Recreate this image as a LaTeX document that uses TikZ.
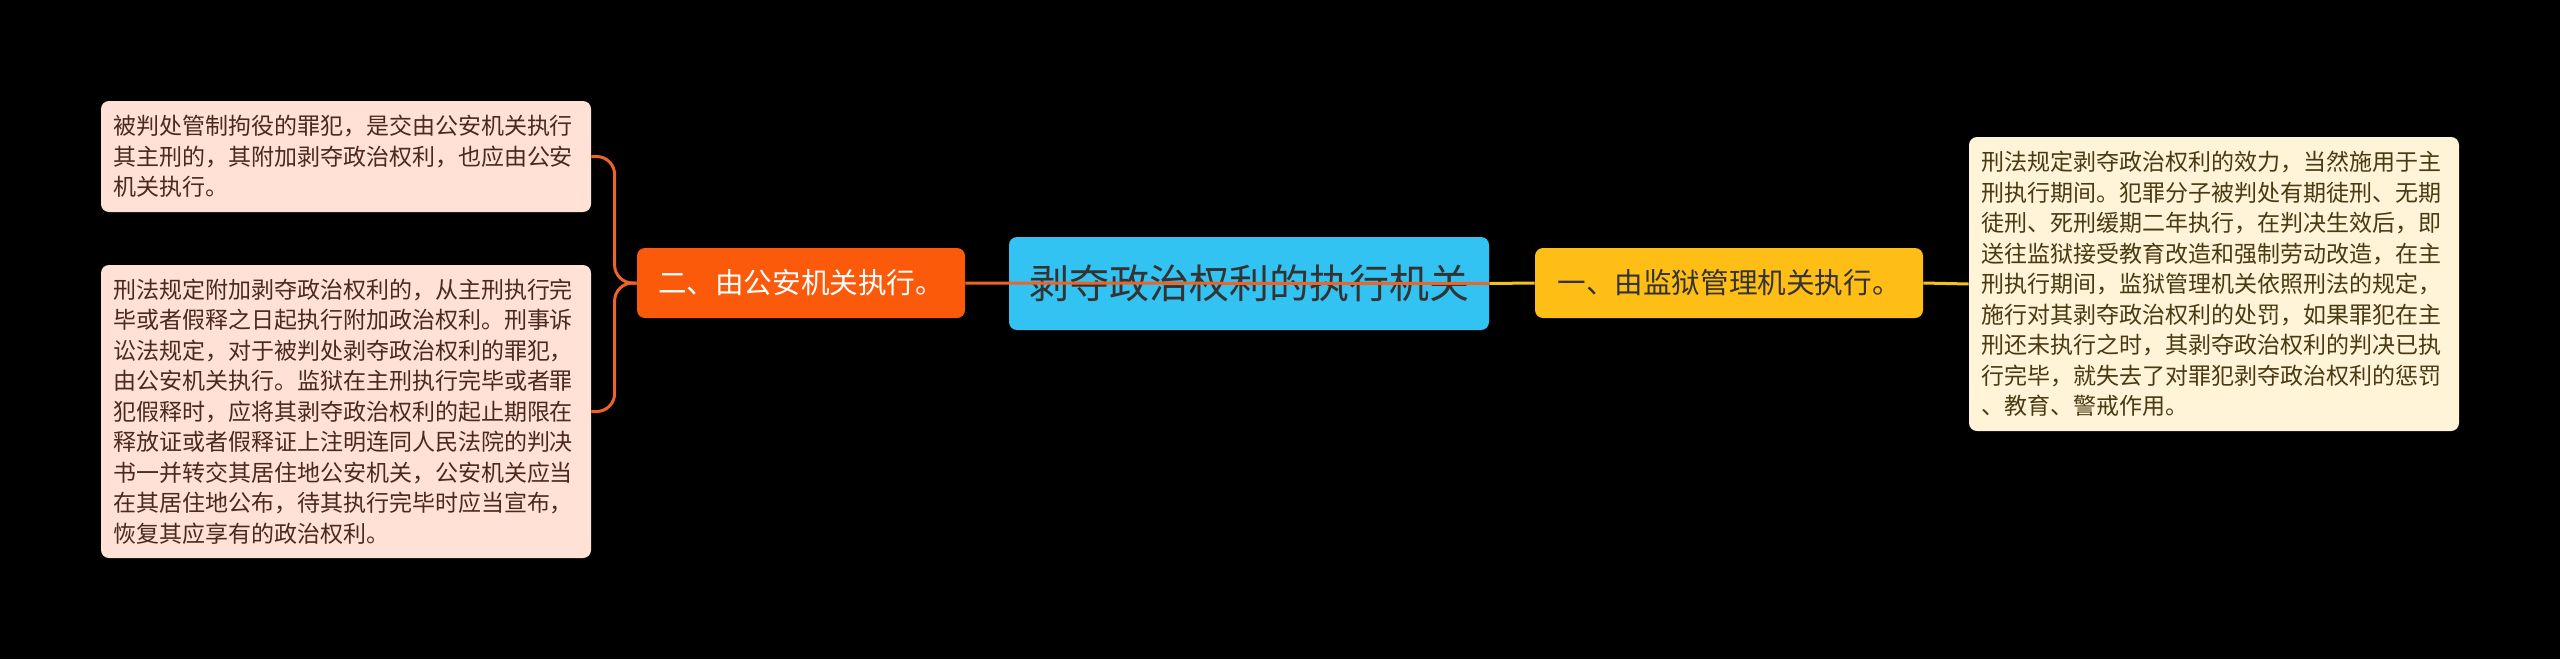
\documentclass[tikz,border=0pt]{standalone}
\usepackage{fontspec}
\setmainfont{Noto Sans CJK SC}
\usepackage{tikz}
\usetikzlibrary{positioning, calc}
\definecolor{Map_Bg}{HTML}{000000}
\definecolor{Map_Cyan}{HTML}{33C3F2}
\definecolor{Map_Orange}{HTML}{FA5A0A}
\definecolor{Map_OrangeLine}{HTML}{EE6428}
\definecolor{Map_Yellow}{HTML}{FFBE16}
\definecolor{Map_YellowLine}{HTML}{F5C21C}
\definecolor{Map_Peach}{HTML}{FFE2D5}
\definecolor{Map_Cream}{HTML}{FFF3D8}
\definecolor{Map_Ink}{HTML}{333333}
\definecolor{Map_Brown}{HTML}{4A2A1C}
\definecolor{Map_Olive}{HTML}{4A3A12}
\tikzset{
    mapbox/.style={rounded corners=4pt, inner sep=0pt, align=center},
    leafbox/.style={mapbox, minimum width=245pt, text width=233pt, align=left,
        font=\fontsize{11.5pt}{15.25pt}\selectfont},
    govline/.style={line width=1.5pt, Map_OrangeLine, rounded corners=9pt},
    prisonline/.style={line width=1.5pt, Map_YellowLine}
}

\begin{document}
\begin{tikzpicture}[x=0.5pt, y=-0.5pt]
    % Background, 2560 x 659 px
    \fill[Map_Bg] (0,0) rectangle (2560,659);
    \useasboundingbox (0,0) rectangle (2560,659);

    % Central topic and the two branches
    \node[mapbox, fill=Map_Cyan, text=Map_Ink, minimum width=240pt, minimum height=46.5pt, font=\fontsize{20pt}{24pt}\selectfont] (root) at (1249,283.5) {剥夺政治权利的执行机关};
    \node[mapbox, fill=Map_Yellow, text=Map_Ink, minimum width=194pt, minimum height=35pt, font=\fontsize{14.3pt}{17pt}\selectfont] (prison) at (1729,283) {一、由监狱管理机关执行。};
    \node[mapbox, fill=Map_Orange, text=white, minimum width=164pt, minimum height=35pt, font=\fontsize{14.3pt}{17pt}\selectfont] (gov) at (801,283) {二、由公安机关执行。};

    % Lines to the branches
    \draw[prisonline] (root.east) -- (prison.west);
    \draw[govline] (root.east) -- (gov.east);

    % Leaves
    \node[leafbox, fill=Map_Peach, text=Map_Brown, minimum height=55.5pt] (govA) at (346,156.5) {被判处管制拘役的罪犯，是交由公安机关执行\\其主刑的，其附加剥夺政治权利，也应由公安\\机关执行。};
    \node[leafbox, fill=Map_Peach, text=Map_Brown, minimum height=146.5pt] (govB) at (346,411.5) {刑法规定附加剥夺政治权利的，从主刑执行完\\毕或者假释之日起执行附加政治权利。刑事诉\\讼法规定，对于被判处剥夺政治权利的罪犯，\\由公安机关执行。监狱在主刑执行完毕或者罪\\犯假释时，应将其剥夺政治权利的起止期限在\\释放证或者假释证上注明连同人民法院的判决\\书一并转交其居住地公安机关，公安机关应当\\在其居住地公布，待其执行完毕时应当宣布，\\恢复其应享有的政治权利。};
    \node[leafbox, fill=Map_Cream, text=Map_Olive, minimum height=147pt] (prisonA) at (2214,284) {刑法规定剥夺政治权利的效力，当然施用于主\\刑执行期间。犯罪分子被判处有期徒刑、无期\\徒刑、死刑缓期二年执行，在判决生效后，即\\送往监狱接受教育改造和强制劳动改造，在主\\刑执行期间，监狱管理机关依照刑法的规定，\\施行对其剥夺政治权利的处罚，如果罪犯在主\\刑还未执行之时，其剥夺政治权利的判决已执\\行完毕，就失去了对罪犯剥夺政治权利的惩罚\\、教育、警戒作用。};

    % Brackets to the leaves
    \draw[govline] (gov.west) -- ++(-22,0) |- (govA.east);
    \draw[govline] (gov.west) -- ++(-22,0) |- (govB.east);
    \draw[prisonline] (prison.east) -- (prisonA.west);
\end{tikzpicture}
\end{document}
